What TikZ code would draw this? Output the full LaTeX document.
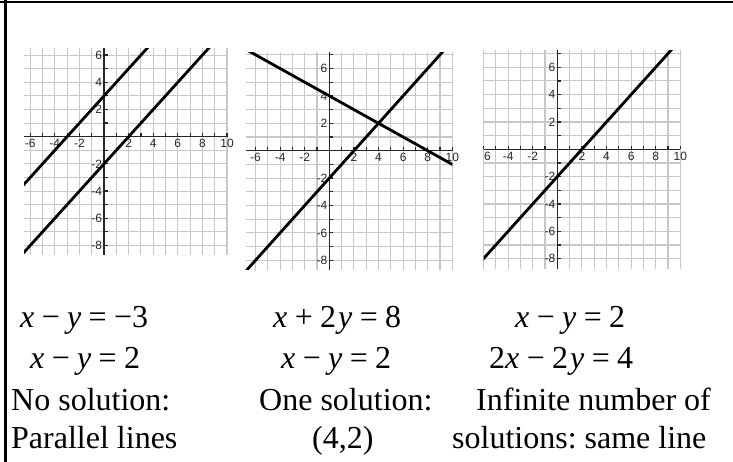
\documentclass[tikz,border=0pt]{standalone}
\usepackage{fontspec}
\setmainfont{Liberation Serif}
\newfontfamily\tickfont{Liberation Sans}
\usetikzlibrary{positioning}
\frenchspacing

\tikzset{
  gridline/.style={black!22, line width=1.1pt},
  axisline/.style={black!85, line width=1.2pt},
  graphline/.style={black, line width=2.8pt},
  ticklabel/.style={font=\tickfont\fontsize{12}{12}\selectfont, inner sep=0.3pt, text=black!85},
  eqtext/.style={anchor=base west, inner sep=0pt, font=\fontsize{32}{36}\selectfont},
}
\newcommand{\op}[1]{\hspace{0.23em}#1\hspace{0.23em}}
\newcommand{\var}[1]{\textit{#1}}

% grid, axes, ticks: xmin, ymin, ymax, top grid line
\newcommand{\coordgrid}[4]{
  \foreach \gx in {-6,...,10}
    \draw[gridline] (\gx,#2) -- (\gx,#3);
  \foreach \gy in {-8,...,#4}
    \draw[gridline] (#1,\gy) -- (10,\gy);
  \draw[axisline] (#1,0) -- (10,0);
  \draw[axisline] (0,#2) -- (0,#3);
  \foreach \gx in {-6,...,10}
    \draw[axisline] (\gx,0) -- (\gx,0.25);
  \foreach \gy in {-8,...,#4}
    \draw[axisline] (0,\gy) -- (0.3,\gy);
  \foreach \gx in {-4,-2,2,4,6,8,10}
    \node[ticklabel, below] (xl\gx) at (\gx,-0.15) {\gx};
  \foreach \gy in {-8,-6,-4,-2,2,4,6}
    \node[ticklabel, left] (yl\gy) at (-0.12,\gy) {\gy};
}

\begin{document}
\begin{tikzpicture}[x=1pt, y=-1pt]
  \useasboundingbox (0,0) rectangle (733,462);

  % frame
  \draw[line width=2.4pt] (0,2) -- (733,2);
  \draw[line width=2.4pt] (5.3,0) -- (5.3,462);

  % no solution
  \begin{scope}[shift={(104,136.7)}, x=12.3pt, y=13.6pt]
    \coordgrid{-6.5}{-8.7}{6.5}{6}
    \node[ticklabel, below] (xlA) at (-6,-0.15) {-6};
    \clip (-6.5,-8.7) rectangle (10,6.5);
    \draw[graphline] (-6.7,-3.7) -- (3.7,6.7);
    \draw[graphline] (-6.9,-8.9) -- (8.7,6.7);
  \end{scope}

  % one solution
  \begin{scope}[shift={(329.3,150.7)}, x=12.3pt, y=13.7pt]
    \coordgrid{-6.8}{-8.7}{7.2}{7}
    \node[ticklabel, below] (xlB) at (-6,-0.15) {-6};
    \clip (-6.8,-8.7) rectangle (10,7.2);
    \draw[graphline] (-7,-9) -- (9.4,7.4);
    \draw[graphline] (-7,7.5) -- (10.2,-1.1);
  \end{scope}

  % same line
  \begin{scope}[shift={(557.3,149.3)}, x=12.3pt, y=13.67pt]
    \coordgrid{-6}{-8.75}{7.25}{7}
    \node[ticklabel, below right] (xlC) at (-6,-0.15) {6};
    \clip (-6,-8.75) rectangle (10,7.25);
    \draw[graphline] (-6.2,-8.2) -- (9.4,7.4);
  \end{scope}

  % equations and notes
  \node[eqtext] (eqAa) at (20,327) {\var{x}\op{−}\var{y}\op{=}−3};
  \node[eqtext] (eqAb) at (30,368) {\var{x}\op{−}\var{y}\op{=}2};
  \node[eqtext] (noteAa) at (11,410) {No solution:};
  \node[eqtext] (noteAb) at (11,448) {Parallel lines};

  \node[eqtext] (eqBa) at (273,327) {\var{x}\op{+}2\kern2pt\var{y}\op{=}8};
  \node[eqtext] (eqBb) at (281,368) {\var{x}\op{−}\var{y}\op{=}2};
  \node[eqtext] (noteBa) at (259,410) {One solution:};
  \node[eqtext] (noteBb) at (312,448) {(4,2)};

  \node[eqtext] (eqCa) at (515,327) {\var{x}\op{−}\var{y}\op{=}2};
  \node[eqtext] (eqCb) at (489,368) {2\var{x}\op{−}2\kern2pt\var{y}\op{=}4};
  \node[eqtext] (noteCa) at (476,410) {Infinite number of};
  \node[eqtext] (noteCb) at (452,448) {solutions: same line};
\end{tikzpicture}
\end{document}
